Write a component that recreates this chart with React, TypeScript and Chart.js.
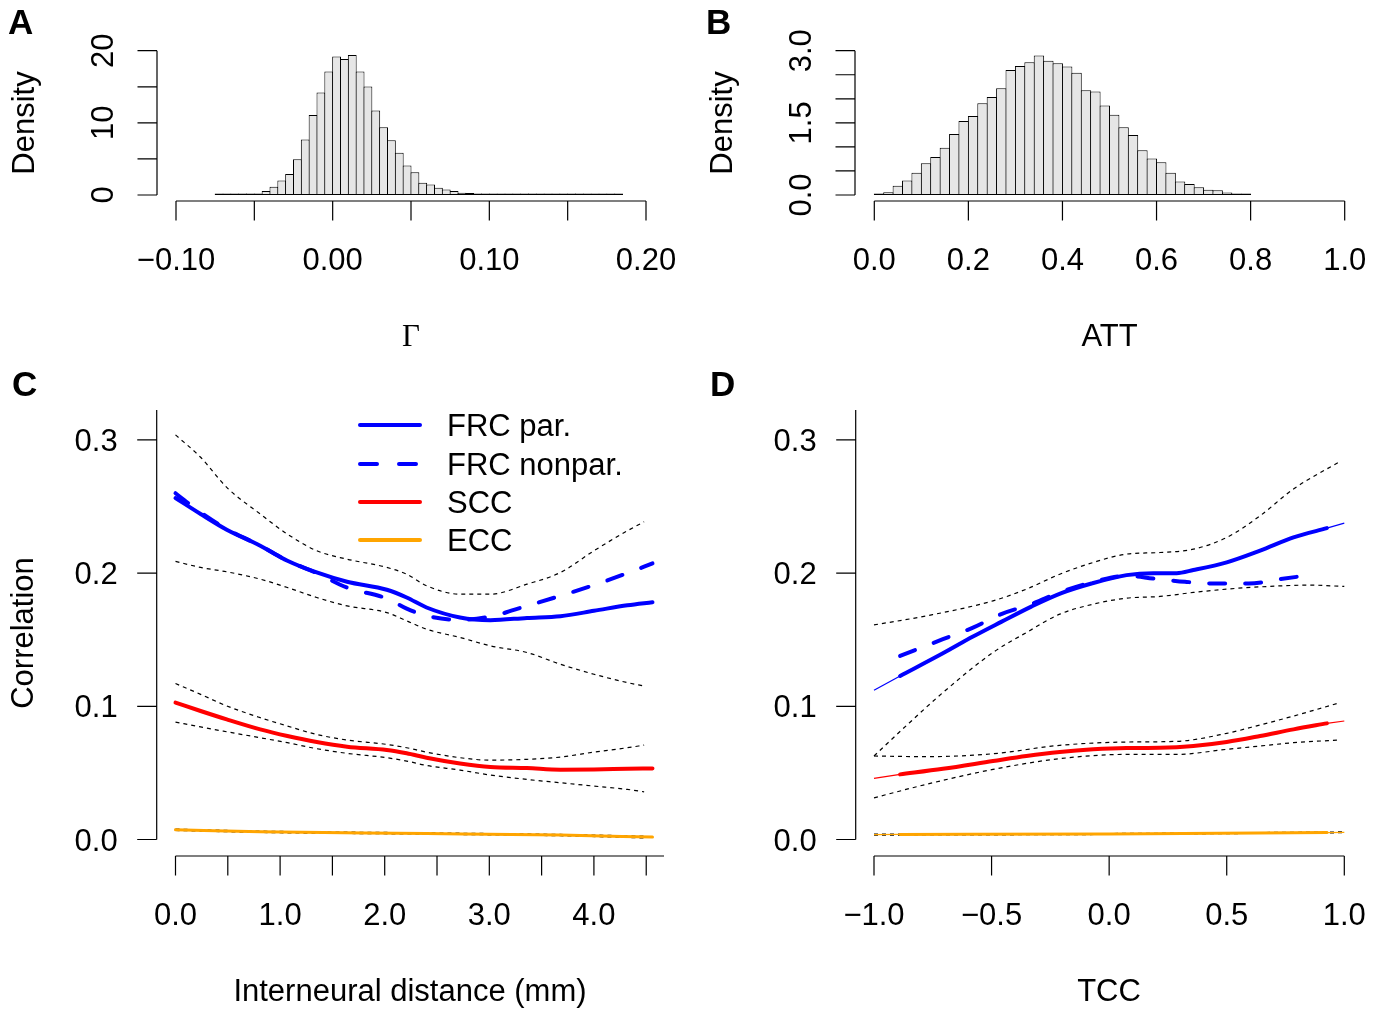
import React, { useEffect, useRef } from "react";
import { Chart, registerables } from "chart.js";

Chart.register(...registerables);

const W = 1383;
const H = 1011;
const SANS = '"Liberation Sans", Arial, Helvetica, sans-serif';
const SERIF = '"Liberation Serif", "Times New Roman", serif';
const FS = 31;
const TICK = 19.5;

// ---------------- Panel A : Gamma histogram ----------------
const gammaBreakStart = -0.075;
const gammaBinWidth = 0.005;
const gammaDensity = [
  0.02, 0.02, 0.03, 0.04, 0.06, 0.18, 0.55, 1.15, 2.0, 2.9,
  4.95, 7.7, 11.1, 14.2, 17.1, 19.2, 18.85, 19.4, 17.1, 15.05,
  11.7, 9.4, 7.6, 5.85, 4.1, 3.15, 1.7, 1.45, 1.0, 0.75,
  0.55, 0.32, 0.28, 0.14, 0.12, 0.08, 0.05, 0.04, 0.04, 0.03,
  0.03, 0.03, 0.02, 0.02, 0.02, 0.02, 0.01, 0.01, 0.01, 0.01,
  0.01, 0.01,
];
const gammaXTicks = [-0.1, -0.05, 0, 0.05, 0.1, 0.15, 0.2];
const gammaXLabels = [-0.1, 0, 0.1, 0.2];
const gammaXLabelText = ["\u22120.10", "0.00", "0.10", "0.20"];
const gammaYTicks = [0, 5, 10, 15, 20];
const gammaYLabels = [0, 10, 20];
const gammaYLabelText = ["0", "10", "20"];

// ---------------- Panel B : ATT histogram ----------------
const attBreakStart = 0;
const attBinWidth = 0.02;
const attDensity = [
  0.015, 0.055, 0.19, 0.3, 0.46, 0.66, 0.79, 0.98, 1.27, 1.54,
  1.64, 1.91, 2.04, 2.22, 2.6, 2.68, 2.76, 2.9, 2.79, 2.74,
  2.67, 2.54, 2.18, 2.15, 1.86, 1.67, 1.41, 1.25, 0.93, 0.76,
  0.68, 0.46, 0.28, 0.23, 0.16, 0.11, 0.1, 0.05, 0.02, 0.015,
];
const attXTicks = [0, 0.2, 0.4, 0.6, 0.8, 1.0];
const attXLabelText = ["0.0", "0.2", "0.4", "0.6", "0.8", "1.0"];
const attYTicks = [0, 0.5, 1, 1.5, 2, 2.5, 3];
const attYLabels = [0, 1.5, 3];
const attYLabelText = ["0.0", "1.5", "3.0"];

// ---------------- Panel C : correlation vs distance ----------------
const cX = [0, 0.24, 0.49, 0.81, 1.07, 1.35, 1.64, 2.02, 2.21, 2.4, 2.72, 3.01, 3.36, 3.68, 4.0, 4.32, 4.56];
const cFrcPar = [0.2564, 0.2444, 0.2326, 0.2206, 0.2093, 0.2005, 0.1935, 0.1875, 0.1817, 0.1742, 0.1667, 0.1647, 0.1664, 0.1677, 0.1717, 0.1759, 0.1782];
const cFrcNonpar = [0.26, 0.2456, 0.2331, 0.2206, 0.2093, 0.2, 0.1892, 0.181, 0.1734, 0.168, 0.1649, 0.1674, 0.1754, 0.183, 0.191, 0.2, 0.2073];
const cScc = [0.1028, 0.0965, 0.0902, 0.0827, 0.0777, 0.0732, 0.0697, 0.0672, 0.0647, 0.0614, 0.0571, 0.0544, 0.0536, 0.0524, 0.0526, 0.0531, 0.0534];
const cCiX = [0, 0.24, 0.49, 0.81, 1.07, 1.35, 1.64, 2.02, 2.21, 2.4, 2.72, 3.01, 3.36, 3.68, 4.0, 4.32, 4.48];
const cFrcUpper = [0.3038, 0.287, 0.2644, 0.2444, 0.2293, 0.2168, 0.2105, 0.2043, 0.1992, 0.1905, 0.1842, 0.1842, 0.1917, 0.2005, 0.2168, 0.2318, 0.2386];
const cFrcLower = [0.2088, 0.2043, 0.201, 0.1955, 0.1892, 0.1817, 0.1754, 0.1704, 0.1642, 0.1579, 0.1517, 0.1454, 0.1404, 0.1316, 0.1241, 0.1178, 0.1153];
const cSccUpper = [0.1171, 0.109, 0.1003, 0.0915, 0.0852, 0.0789, 0.0747, 0.0714, 0.0689, 0.0656, 0.0614, 0.0596, 0.0602, 0.0619, 0.0656, 0.0689, 0.0709];
const cSccLower = [0.0882, 0.0845, 0.0809, 0.0764, 0.0727, 0.0682, 0.0647, 0.0614, 0.0589, 0.0556, 0.0521, 0.0484, 0.0451, 0.0426, 0.0401, 0.0376, 0.0358];
const cEccX = [0, 0.81, 2.4, 3.68, 4.56];
const cEcc = [0.0073, 0.0058, 0.0045, 0.0033, 0.0018];
const cEccCiX = [0, 0.81, 2.4, 3.68, 4.48];
const cEccUpper = [0.0078, 0.0063, 0.005, 0.0038, 0.0025];
const cEccLower = [0.0068, 0.0053, 0.004, 0.0028, 0.0012];
const cXTicks = [0, 0.5, 1, 1.5, 2, 2.5, 3, 3.5, 4, 4.5];
const cXLabels = [0, 1, 2, 3, 4];
const cXLabelText = ["0.0", "1.0", "2.0", "3.0", "4.0"];
const corrYTicks = [0, 0.1, 0.2, 0.3];
const corrYLabelText = ["0.0", "0.1", "0.2", "0.3"];
const legendLabels = ["FRC par.", "FRC nonpar.", "SCC", "ECC"];

// ---------------- Panel D : correlation vs TCC ----------------
const dFitX = [-0.889, -0.707, -0.579, -0.459, -0.331, -0.203, -0.075, 0.074, 0.188, 0.287, 0.358, 0.5, 0.642, 0.784, 0.926];
const dFrcPar = [0.1228, 0.1398, 0.1524, 0.1634, 0.1749, 0.185, 0.1922, 0.1985, 0.2, 0.2, 0.2023, 0.2081, 0.2169, 0.2268, 0.2338];
const dNonparX = [-0.889, -0.707, -0.579, -0.459, -0.331, -0.203, -0.075, 0.074, 0.188, 0.323, 0.458, 0.593, 0.728, 0.862];
const dFrcNonpar = [0.1378, 0.1504, 0.1591, 0.1692, 0.1767, 0.186, 0.193, 0.198, 0.196, 0.1935, 0.1922, 0.1922, 0.1955, 0.1988];
const dSccX = [-0.889, -0.707, -0.494, -0.352, -0.21, -0.068, 0.074, 0.216, 0.358, 0.5, 0.642, 0.784, 0.926];
const dScc = [0.0489, 0.0531, 0.0589, 0.0627, 0.0657, 0.0677, 0.0687, 0.0689, 0.0702, 0.0732, 0.0777, 0.0827, 0.0872];
const dEccX = [-0.889, 0, 0.926];
const dEcc = [0.0038, 0.0042, 0.0052];
const dExtLeftX = [-1.0, -0.889];
const dExtRightX = [0.926, 1.0];
const dFrcParExtLeft = [0.112, 0.1228];
const dFrcParExtRight = [0.2338, 0.2376];
const dSccExtLeft = [0.0459, 0.0489];
const dSccExtRight = [0.0872, 0.089];
const dEccExtLeft = [0.0037, 0.0038];
const dEccExtRight = [0.0052, 0.0054];
const dFrcCiUpperX = [-1.0, -0.778, -0.494, -0.352, -0.21, -0.068, 0.074, 0.216, 0.358, 0.5, 0.642, 0.784, 0.983];
const dFrcUpper = [0.1611, 0.1679, 0.1792, 0.188, 0.1992, 0.208, 0.2143, 0.2155, 0.218, 0.2268, 0.2431, 0.2632, 0.284];
const dFrcCiLowerX = [-1.0, -0.849, -0.707, -0.494, -0.352, -0.21, -0.068, 0.074, 0.216, 0.358, 0.5, 0.642, 0.855, 1.0];
const dFrcLower = [0.0627, 0.0877, 0.1103, 0.1404, 0.1554, 0.1692, 0.1767, 0.1812, 0.1825, 0.1855, 0.188, 0.1897, 0.191, 0.19];
const dSccCiX = [-1.0, -0.778, -0.494, -0.21, 0.074, 0.287, 0.5, 0.642, 0.784, 0.983];
const dSccUpper = [0.0627, 0.0622, 0.0644, 0.0707, 0.0732, 0.0737, 0.0797, 0.086, 0.0927, 0.1028];
const dSccLower = [0.0313, 0.0414, 0.0526, 0.0607, 0.0639, 0.0639, 0.0677, 0.0702, 0.0727, 0.0747];
const dEccCiX = [-1.0, 0, 1.0];
const dEccUpper = [0.0041, 0.0045, 0.0057];
const dEccLower = [0.0033, 0.0038, 0.0051];
const dXTicks = [-1, -0.5, 0, 0.5, 1];
const dXLabelText = ["\u22121.0", "\u22120.5", "0.0", "0.5", "1.0"];

// ---------------- colours ----------------
const BLUE = "#0000FF";
const RED = "#FF0000";
const ORANGE = "#FFA500";
const HIST_FILL = "#E6E6E6";

// ---------------- helpers ----------------
function baseOptions(f: any) {
  return {
    responsive: false,
    animation: false,
    devicePixelRatio: 1,
    events: [],
    layout: { padding: { left: f.left, right: W - f.right, top: f.top, bottom: H - f.bottom } },
    plugins: { legend: { display: false }, tooltip: { enabled: false }, title: { display: false } },
    scales: {
      x: { type: "linear", min: f.xMin, max: f.xMax, display: false, offset: false, bounds: "data" },
      y: { type: "linear", min: f.yMin, max: f.yMax, display: false, bounds: "data" },
    },
  };
}

function makeRPlugin(spec: any) {
  return {
    id: "rStyleAxes",
    afterDraw(chart: any) {
      const ctx = chart.ctx;
      const xs = chart.scales.x;
      const ys = chart.scales.y;
      ctx.save();
      ctx.strokeStyle = "#000";
      ctx.fillStyle = "#000";
      ctx.lineWidth = 1.2;
      ctx.setLineDash([]);
      ctx.lineCap = "butt";

      // x axis
      const xa = spec.xAxis;
      ctx.beginPath();
      ctx.moveTo(xs.getPixelForValue(xa.from), xa.pos);
      ctx.lineTo(xs.getPixelForValue(xa.to), xa.pos);
      xa.ticks.forEach((v: number) => {
        const px = xs.getPixelForValue(v);
        ctx.moveTo(px, xa.pos);
        ctx.lineTo(px, xa.pos + TICK);
      });
      ctx.stroke();
      ctx.font = `${FS}px ${SANS}`;
      ctx.textAlign = "center";
      ctx.textBaseline = "alphabetic";
      xa.labels.forEach((v: number, i: number) => {
        ctx.fillText(xa.texts[i], xs.getPixelForValue(v), xa.pos + 69);
      });
      ctx.font = `${FS}px ${xa.serif ? SERIF : SANS}`;
      ctx.fillText(xa.title, xa.titleCenter, xa.pos + 145);

      // y axis
      const ya = spec.yAxis;
      ctx.beginPath();
      ctx.moveTo(ya.pos, ys.getPixelForValue(ya.from));
      ctx.lineTo(ya.pos, ys.getPixelForValue(ya.to));
      ya.ticks.forEach((v: number) => {
        const py = ys.getPixelForValue(v);
        ctx.moveTo(ya.pos, py);
        ctx.lineTo(ya.pos - TICK, py);
      });
      ctx.stroke();
      ctx.font = `${FS}px ${SANS}`;
      ya.labels.forEach((v: number, i: number) => {
        const py = ys.getPixelForValue(v);
        if (ya.rotate) {
          ctx.save();
          ctx.translate(ya.pos - 44, py);
          ctx.rotate(-Math.PI / 2);
          ctx.textAlign = "center";
          ctx.fillText(ya.texts[i], 0, 0);
          ctx.restore();
        } else {
          ctx.textAlign = "right";
          ctx.fillText(ya.texts[i], ya.pos - 39, py + 11);
        }
      });
      if (ya.title) {
        ctx.save();
        ctx.translate(ya.pos - 123.5, ya.titleCenter);
        ctx.rotate(-Math.PI / 2);
        ctx.textAlign = "center";
        ctx.fillText(ya.title, 0, 0);
        ctx.restore();
      }

      // panel letter
      ctx.font = `bold 35px ${SANS}`;
      ctx.textAlign = "left";
      ctx.fillText(spec.letter.text, spec.letter.x, spec.letter.y);

      // legend
      if (spec.legend) {
        const lg = spec.legend;
        ctx.font = `${FS}px ${SANS}`;
        lg.items.forEach((it: any, i: number) => {
          const y = lg.rows[i];
          ctx.save();
          ctx.strokeStyle = it.color;
          ctx.lineWidth = it.width;
          ctx.lineCap = "round";
          ctx.setLineDash(it.dash || []);
          ctx.beginPath();
          ctx.moveTo(lg.x0, y);
          ctx.lineTo(lg.x1, y);
          ctx.stroke();
          ctx.restore();
          ctx.fillStyle = "#000";
          ctx.textAlign = "left";
          ctx.fillText(it.label, lg.textX, y + 11);
        });
      }
      ctx.restore();
    },
  };
}

function histConfig(breakStart: number, binWidth: number, density: number[], f: any, spec: any) {
  const binPx = (binWidth * (f.right - f.left)) / (f.xMax - f.xMin);
  const data = density.map((d, i) => ({ x: breakStart + binWidth * (i + 0.5), y: d }));
  return {
    type: "bar",
    data: {
      datasets: [
        {
          data,
          backgroundColor: HIST_FILL,
          borderColor: "#000",
          borderWidth: 1,
          borderSkipped: false,
          barPercentage: 1 + 1 / binPx,
          categoryPercentage: 1,
          minBarLength: 1.5,
          clip: false,
        },
      ],
    },
    options: baseOptions(f),
    plugins: [makeRPlugin(spec)],
  };
}

function series(xs: number[], ys: number[], color: string, width: number, dash: number[] = [], round = true) {
  return {
    data: xs.map((x, i) => ({ x, y: ys[i] })),
    borderColor: color,
    borderWidth: width,
    borderDash: dash,
    pointRadius: 0,
    pointHoverRadius: 0,
    fill: false,
    cubicInterpolationMode: "monotone",
    borderCapStyle: round ? "round" : "butt",
    borderJoinStyle: "round",
    clip: false,
  };
}

const CI = (xs: number[], ys: number[]) => series(xs, ys, "#000", 1.2, [4, 4], false);

function lineConfig(datasets: any[], f: any, spec: any) {
  return {
    type: "line",
    data: { datasets },
    options: baseOptions(f),
    plugins: [makeRPlugin(spec)],
  };
}

// ---------------- panel builders ----------------
const frameA = { xMin: -0.1, xMax: 0.2, left: 176, right: 646, yMin: 0, yMax: 20, top: 50.7, bottom: 195 };
const frameB = { xMin: 0, xMax: 1, left: 874.3, right: 1344.7, yMin: 0, yMax: 3, top: 50.7, bottom: 195 };
const frameC = { xMin: 0, xMax: 4.67, left: 175.5, right: 664, yMin: 0, yMax: 0.3225, top: 410, bottom: 839.5 };
const frameD = { xMin: -1, xMax: 1, left: 874, right: 1344.3, yMin: 0, yMax: 0.3225, top: 410, bottom: 839.5 };

const buildA = () =>
  histConfig(gammaBreakStart, gammaBinWidth, gammaDensity, frameA, {
    xAxis: { pos: 201, from: -0.1, to: 0.2, ticks: gammaXTicks, labels: gammaXLabels, texts: gammaXLabelText, title: "\u0393", serif: true, titleCenter: 411 },
    yAxis: { pos: 157, from: 0, to: 20, ticks: gammaYTicks, labels: gammaYLabels, texts: gammaYLabelText, rotate: true, title: "Density", titleCenter: 123 },
    letter: { text: "A", x: 8, y: 34 },
  });

const buildB = () =>
  histConfig(attBreakStart, attBinWidth, attDensity, frameB, {
    xAxis: { pos: 201, from: 0, to: 1, ticks: attXTicks, labels: attXTicks, texts: attXLabelText, title: "ATT", titleCenter: 1109.5 },
    yAxis: { pos: 855, from: 0, to: 3, ticks: attYTicks, labels: attYLabels, texts: attYLabelText, rotate: true, title: "Density", titleCenter: 123 },
    letter: { text: "B", x: 706, y: 34 },
  });

const buildC = () =>
  lineConfig(
    [
      series(cX, cFrcPar, BLUE, 4),
      series(cX, cFrcNonpar, BLUE, 4, [16, 20]),
      series(cX, cScc, RED, 4),
      series(cEccX, cEcc, ORANGE, 3),
      CI(cCiX, cFrcUpper),
      CI(cCiX, cFrcLower),
      CI(cCiX, cSccUpper),
      CI(cCiX, cSccLower),
      CI(cEccCiX, cEccUpper),
      CI(cEccCiX, cEccLower),
    ],
    frameC,
    {
      xAxis: { pos: 856, from: 0, to: 4.67, ticks: cXTicks, labels: cXLabels, texts: cXLabelText, title: "Interneural distance (mm)", titleCenter: 410 },
      yAxis: { pos: 156.7, from: 0, to: 0.3225, ticks: corrYTicks, labels: corrYTicks, texts: corrYLabelText, rotate: false, title: "Correlation", titleCenter: 633 },
      letter: { text: "C", x: 12, y: 396 },
      legend: {
        x0: 360,
        x1: 420,
        textX: 447,
        rows: [425, 464, 502, 540],
        items: [
          { label: legendLabels[0], color: BLUE, width: 4 },
          { label: legendLabels[1], color: BLUE, width: 4, dash: [17, 22] },
          { label: legendLabels[2], color: RED, width: 4 },
          { label: legendLabels[3], color: ORANGE, width: 4 },
        ],
      },
    }
  );

const buildD = () =>
  lineConfig(
    [
      series(dFitX, dFrcPar, BLUE, 4),
      series(dNonparX, dFrcNonpar, BLUE, 4, [16, 20]),
      series(dSccX, dScc, RED, 4),
      series(dEccX, dEcc, ORANGE, 3),
      series(dExtLeftX, dFrcParExtLeft, BLUE, 1.2, [], false),
      series(dExtRightX, dFrcParExtRight, BLUE, 1.2, [], false),
      series(dExtLeftX, dSccExtLeft, RED, 1.2, [], false),
      series(dExtRightX, dSccExtRight, RED, 1.2, [], false),
      series(dExtLeftX, dEccExtLeft, ORANGE, 1.2, [], false),
      series(dExtRightX, dEccExtRight, ORANGE, 1.2, [], false),
      CI(dFrcCiUpperX, dFrcUpper),
      CI(dFrcCiLowerX, dFrcLower),
      CI(dSccCiX, dSccUpper),
      CI(dSccCiX, dSccLower),
      CI(dEccCiX, dEccUpper),
      CI(dEccCiX, dEccLower),
    ],
    frameD,
    {
      xAxis: { pos: 856, from: -1, to: 1, ticks: dXTicks, labels: dXTicks, texts: dXLabelText, title: "TCC", titleCenter: 1109 },
      yAxis: { pos: 855.7, from: 0, to: 0.3225, ticks: corrYTicks, labels: corrYTicks, texts: corrYLabelText, rotate: false, title: "", titleCenter: 633 },
      letter: { text: "D", x: 710, y: 396 },
    }
  );

function ChartCanvas({ build }: { build: () => any }) {
  const ref = useRef<HTMLCanvasElement | null>(null);
  useEffect(() => {
    if (!ref.current) return;
    const chart = new Chart(ref.current, build() as any);
    return () => chart.destroy();
  }, [build]);
  return (
    <canvas
      ref={ref}
      width={W}
      height={H}
      style={{ position: "absolute", left: 0, top: 0, width: W, height: H }}
    />
  );
}

export default function App() {
  return (
    <div style={{ position: "fixed", left: 0, top: 0, width: W, height: H, background: "#fff", overflow: "hidden" }}>
      <ChartCanvas build={buildA} />
      <ChartCanvas build={buildB} />
      <ChartCanvas build={buildC} />
      <ChartCanvas build={buildD} />
    </div>
  );
}
